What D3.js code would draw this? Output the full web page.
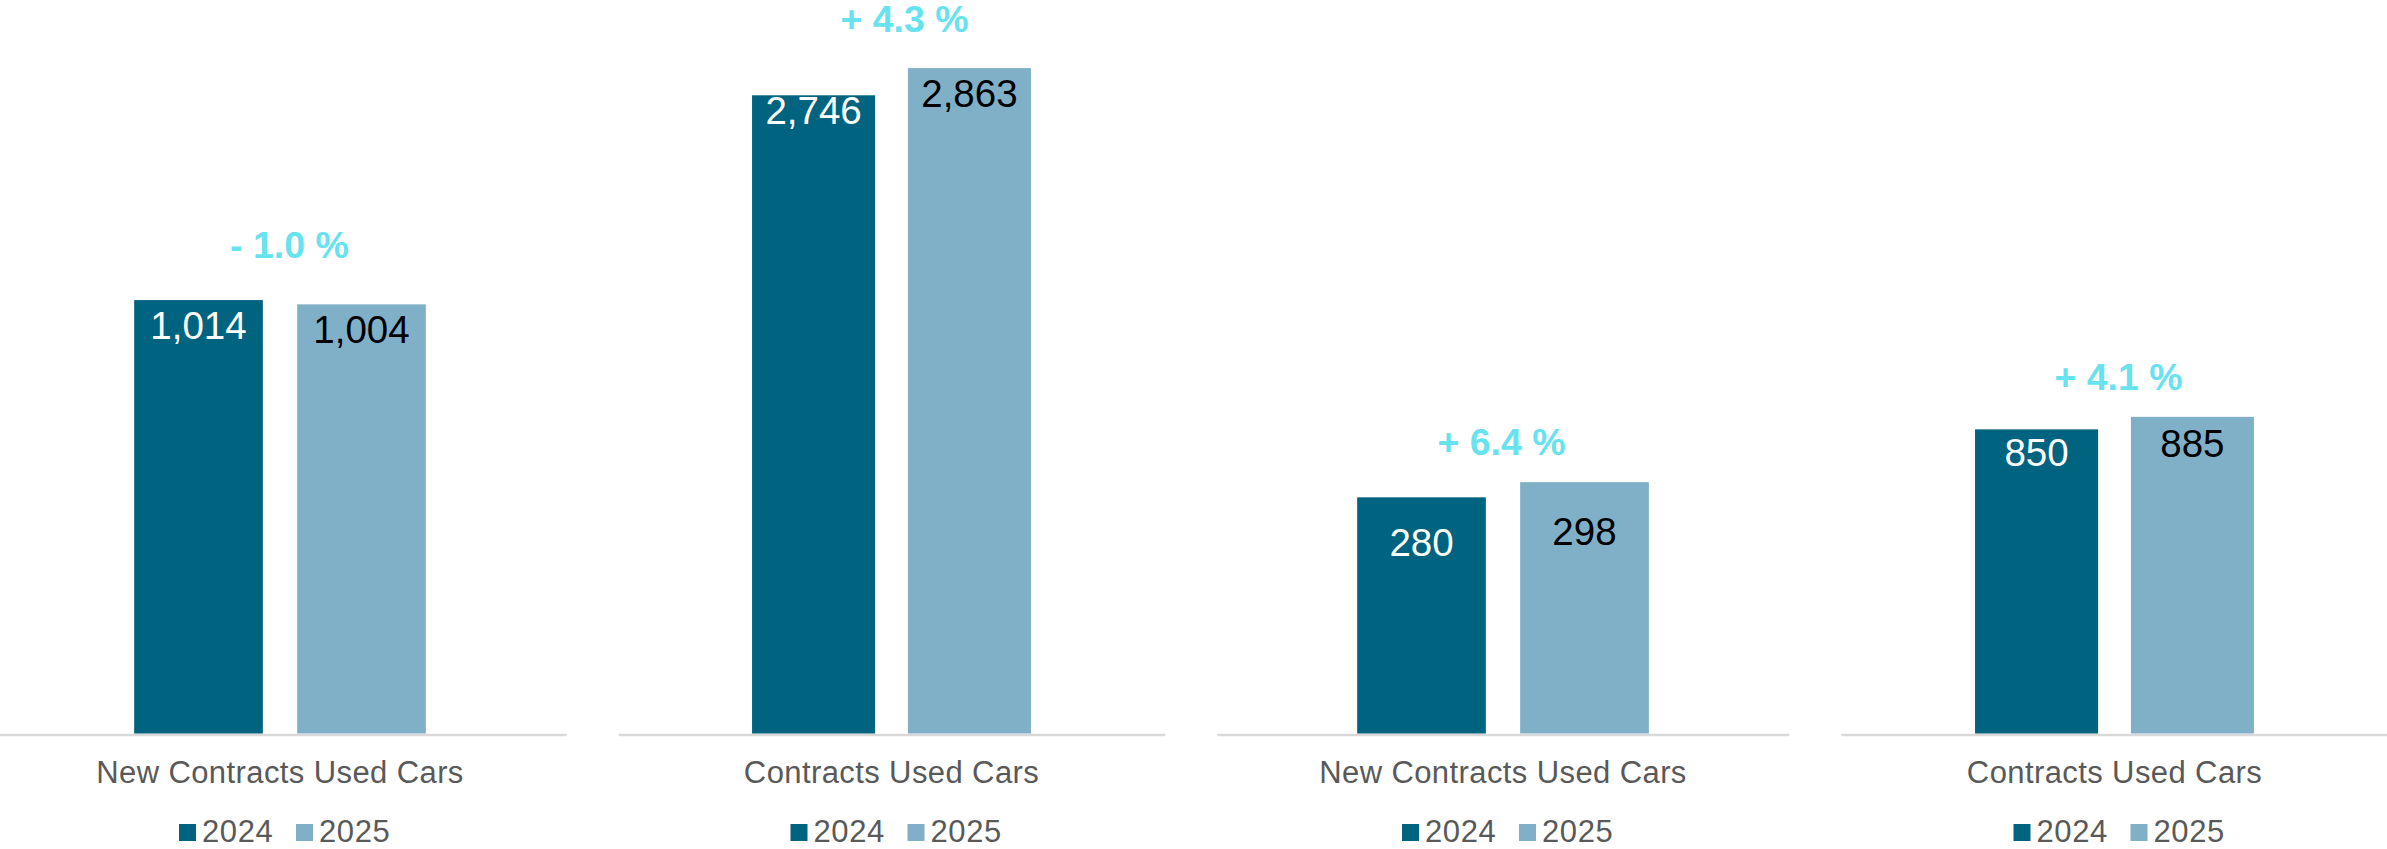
<!DOCTYPE html>
<html>
<head>
<meta charset="utf-8">
<script src="https://cdn.jsdelivr.net/npm/d3@7"></script>
<style>
  html, body { margin: 0; padding: 0; background: #ffffff; }
  svg { display: block; font-family: "Liberation Sans", Arial, sans-serif; }
</style>
</head>
<body>
<svg id="chart" width="2387" height="849"></svg>
<script>
// Contract counts per panel, one small array per series
const categories = ["New Contracts Used Cars", "Contracts Used Cars", "New Contracts Used Cars", "Contracts Used Cars"];
const years = ["2024", "2025"];
const values2024 = [1014, 2746, 280, 850];
const values2025 = [1004, 2863, 298, 885];
// each panel has its own value axis maximum
const axisMax = [1716, 3156, 869.6, 2050];

// layout
const W = 2387, H = 849;
const baseY = 733.5;
const panelWidths = [572, 547, 572, 547];
const valueLabelDy = [[38.5, 38.6], [29, 38.7], [58.4, 62.9], [36.6, 40.2]];
const changeLabelRise = [41.7, 35.7, 27, 27];
const changeLabelDx = [9.5, 13, -1.5, 4];
const colors = { "2024": "#00637f", "2025": "#80b0c8" };
const labelColors = { "2024": "#ffffff", "2025": "#000000" };

const svg = d3.select("#chart");
svg.append("rect").attr("width", W).attr("height", H).attr("fill", "#ffffff");

const panelX = d3.scalePoint().domain(d3.range(categories.length)).range([280, 2114.5]);

const fmt = d3.format(",");
function changeText(a, b) {
  const pct = (b - a) / a * 100;
  return (pct < 0 ? "- " : "+ ") + Math.abs(pct).toFixed(1) + " %";
}

categories.forEach((cat, i) => {
  const c = panelX(i);
  const w = panelWidths[i];
  const vals = { "2024": values2024[i], "2025": values2025[i] };

  const x = d3.scaleBand().domain(years).range([c - w / 2, c + w / 2])
    .paddingInner(0.2105).paddingOuter(0.86);
  const y = d3.scaleLinear().domain([0, axisMax[i]]).range([baseY, 0]);

  const g = svg.append("g");

  // baseline
  const axis = g.append("g")
    .attr("transform", `translate(0,${baseY + 1})`)
    .call(d3.axisBottom(x).tickSize(0).tickSizeOuter(0).tickFormat(""));
  axis.select(".domain").attr("stroke", "#d9d9d9").attr("stroke-width", 2.5);
  axis.selectAll(".tick").remove();

  // bars
  g.selectAll("rect.bar").data(years).join("rect")
    .attr("class", "bar")
    .attr("x", d => x(d))
    .attr("width", x.bandwidth())
    .attr("y", d => y(vals[d]))
    .attr("height", d => baseY - y(vals[d]))
    .attr("fill", d => colors[d]);

  // value labels inside bar tops
  g.selectAll("text.val").data(years).join("text")
    .attr("class", "val")
    .attr("x", d => x(d) + x.bandwidth() / 2)
    .attr("y", (d, j) => y(vals[d]) + valueLabelDy[i][j])
    .attr("text-anchor", "middle")
    .attr("font-size", 38.5)
    .attr("fill", d => labelColors[d])
    .text(d => fmt(vals[d]));

  // year-over-year change
  const top = y(Math.max(vals["2024"], vals["2025"]));
  g.append("text")
    .attr("x", c + changeLabelDx[i])
    .attr("y", top - changeLabelRise[i])
    .attr("text-anchor", "middle")
    .attr("font-size", 37.5)
    .attr("font-weight", "bold")
    .attr("fill", "#67e2ef")
    .text(changeText(vals["2024"], vals["2025"]));

  // category label
  g.append("text")
    .attr("x", c)
    .attr("y", 782.7)
    .attr("text-anchor", "middle")
    .attr("font-size", 31)
    .attr("letter-spacing", 0.4)
    .attr("fill", "#595959")
    .text(cat);

  // legend
  const lg = g.append("g").attr("transform", `translate(${c},0)`);
  const legendPos = [{ sq: -101, tx: -78 }, { sq: 16, tx: 39 }];
  years.forEach((yr, j) => {
    lg.append("rect")
      .attr("x", legendPos[j].sq).attr("y", 824)
      .attr("width", 17).attr("height", 17)
      .attr("fill", colors[yr]);
    lg.append("text")
      .attr("x", legendPos[j].tx).attr("y", 841.7)
      .attr("font-size", 31)
      .attr("letter-spacing", 0.6)
      .attr("fill", "#595959")
      .text(yr);
  });
});
</script>
</body>
</html>
